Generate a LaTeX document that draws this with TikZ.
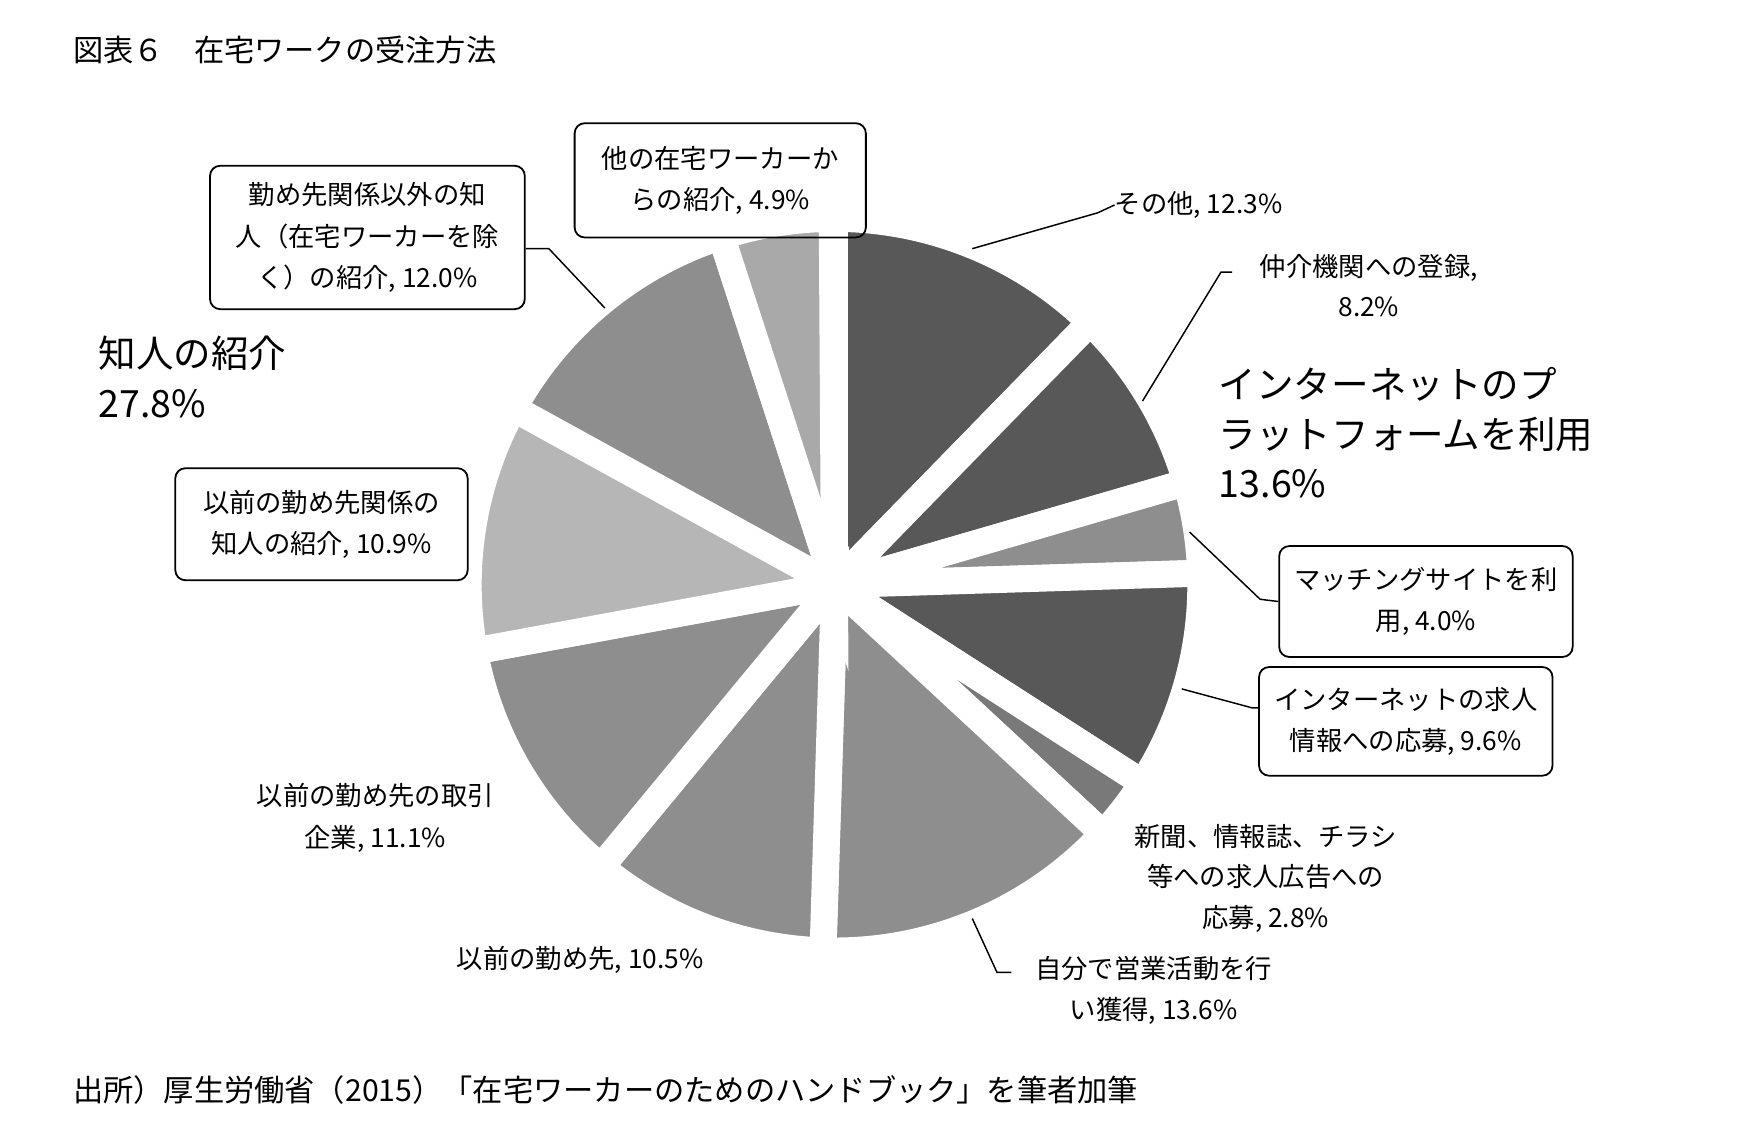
\documentclass[tikz,border=0pt]{standalone}
\usepackage{fontspec}
\setmainfont{Noto Sans CJK JP}
\begin{document}
\begin{tikzpicture}[x=1pt,y=-1pt,
 lbl/.style={font=\fontsize{23.5}{26}\selectfont,align=center,inner sep=0pt},
 big/.style={font=\fontsize{33.5}{44}\selectfont,align=left,inner sep=0pt,anchor=north west},
 rbox/.style={draw,rounded corners=9pt,line width=1.6pt,align=center,inner sep=0pt,font=\fontsize{23.5}{37}\selectfont},
 lead/.style={line width=1.3pt},
 sl/.style={draw=white,line width=24pt,line join=miter}]
\useasboundingbox[fill=white] (0,0) rectangle (1565,1022);
\coordinate (c) at (745,522);
\def\R{327}
\newcommand\slice[3]{\filldraw[sl,fill=#3] (c) -- ++(#1:\R) arc[start angle=#1,end angle=#2,radius=\R] -- cycle;}
\definecolor{dk}{HTML}{585858}
\definecolor{md}{HTML}{8E8E8E}
\definecolor{lt}{HTML}{B6B6B6}
\definecolor{lt2}{HTML}{A9A9A9}
\slice{-90}{-45.72}{dk}
\slice{-45.72}{-16.2}{dk}
\slice{-16.2}{-1.8}{md}
\slice{-1.8}{32.76}{dk}
\slice{32.76}{42.84}{gray!95!black}
\slice{42.84}{91.8}{md}
\slice{91.8}{129.6}{md}
\slice{129.6}{169.56}{md}
\slice{169.56}{208.8}{lt}
\slice{208.8}{252}{md}
\slice{252}{269.64}{lt2}
\node[anchor=west,font=\fontsize{27}{30}\selectfont,inner sep=0pt] (title) at (65,45) {図表６　在宅ワークの受注方法};
\node[anchor=west,font=\fontsize{27}{30}\selectfont,inner sep=0pt] (src) at (65,973) {出所）厚生労働省（2015）「在宅ワーカーのためのハンドブック」を筆者加筆};
\node[rbox,minimum width=260pt,minimum height=102pt] (b1) at (643,161) {他の在宅ワーカーか\\らの紹介, 4.9\%};
\node[rbox,minimum width=281pt,minimum height=128pt] (b2) at (328,212) {勤め先関係以外の知\\人（在宅ワーカーを除\\く）の紹介, 12.0\%};
\node[big] (k) at (88,300) {知人の紹介\\27.8\%};
\node[rbox,minimum width=261pt,minimum height=100pt] (b3) at (287,468) {以前の勤め先関係の\\知人の紹介, 10.9\%};
\node[lbl,font=\fontsize{23.5}{37}\selectfont] (t1) at (335,730) {以前の勤め先の取引\\企業, 11.1\%};
\node[lbl] (t2) at (518,857) {以前の勤め先, 10.5\%};
\node[lbl,font=\fontsize{23.5}{37}\selectfont] (t3) at (1030,884) {自分で営業活動を行\\い獲得, 13.6\%};
\node[lbl,font=\fontsize{23.5}{36}\selectfont] (t4) at (1130,784) {新聞、情報誌、チラシ\\等への求人広告への\\応募, 2.8\%};
\node[rbox,minimum width=262pt,minimum height=97pt] (b4) at (1255,644) {インターネットの求人\\情報への応募, 9.6\%};
\node[rbox,minimum width=262pt,minimum height=99pt] (b5) at (1273,537) {マッチングサイトを利\\用, 4.0\%};
\node[big] (p) at (1088,328) {インターネットのプ\\ラットフォームを利用\\13.6\%};
\node[lbl,font=\fontsize{23.5}{35}\selectfont] (t5) at (1222,255) {仲介機関への登録,\\8.2\%};
\node[lbl,anchor=west] (t6) at (995,183) {その他, 12.3\%};
\coordinate (s1) at (868,222); \coordinate (s2) at (1020,358);
\coordinate (s3) at (1062,475); \coordinate (s4) at (1055,615);
\coordinate (s5) at (868,820); \coordinate (s6) at (540,275);
\draw[lead] (s1) -- (980,190) -- (t6.west);
\draw[lead] (s2) -- (1090,243) -- (1100,243);
\draw[lead] (s3) -- (1125,535) -- (b5.west);
\draw[lead] (s4) -- (1118,632) -- (b4.west|-0,632);
\draw[lead] (s5) -- (890,868) -- (903,868);
\draw[lead] (s6) -- (490,222) -- (b2.east|-0,222);
\end{tikzpicture}
\end{document}
